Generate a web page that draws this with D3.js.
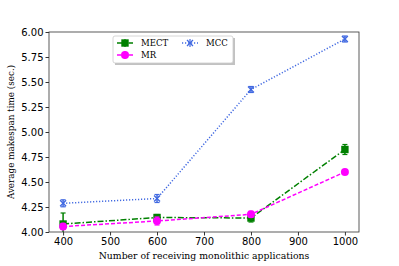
<!DOCTYPE html>
<html><head><meta charset="utf-8">
<script src="https://cdn.jsdelivr.net/npm/d3@7"></script>
<style>body{margin:0;background:#fff}svg{display:block}</style>
</head><body>
<svg id="c" width="399" height="266"></svg>
<script>
const xCats = [400, 600, 800, 1000];
const mectVals = [4.08, 4.145, 4.14, 4.825];
const mectErr = [0.11, 0.03, 0.04, 0.05];
const mrVals = [4.055, 4.11, 4.177, 4.60];
const mrErr = [0.03, 0.04, 0.03, 0.02];
const mccVals = [4.287, 4.335, 5.425, 5.93];
const mccErr = [0.035, 0.04, 0.03, 0.03];
const xTicks = [400, 500, 600, 700, 800, 900, 1000];
const yTicks = [4.00, 4.25, 4.50, 4.75, 5.00, 5.25, 5.50, 5.75, 6.00];

const svg = d3.select("#c");
const L = 49, R = 359, T = 32, B = 232;
const x = d3.scaleLinear().domain([370, 1030]).range([L, R]);
const y = d3.scaleLinear().domain([4.0, 6.0]).range([B, T]);

svg.append("defs").append("clipPath").attr("id","cp")
  .append("rect").attr("x",L).attr("y",T).attr("width",R-L).attr("height",B-T);

const series = [
  {name:"MECT", vals:mectVals, err:mectErr, color:"#008000", dash:"6,2,1.5,2", marker:"square"},
  {name:"MR", vals:mrVals, err:mrErr, color:"#ff00ff", dash:"4,2", marker:"circle"},
  {name:"MCC", vals:mccVals, err:mccErr, color:"#4169e1", dash:"1.2,1.8", marker:"x"}
];

const g = svg.append("g").attr("clip-path","url(#cp)");
const line = d3.line().x((d,i)=>x(xCats[i])).y(d=>y(d));

function drawMarker(sel, type, cx, cy, color){
  if(type==="square"){
    sel.append("rect").attr("x",cx-3.7).attr("y",cy-3.7).attr("width",7.4).attr("height",7.4).attr("fill",color);
  } else if(type==="circle"){
    sel.append("circle").attr("cx",cx).attr("cy",cy).attr("r",4).attr("fill",color);
  } else {
    sel.append("path").attr("d",`M${cx-3},${cy-3}L${cx+3},${cy+3}M${cx-3},${cy+3}L${cx+3},${cy-3}`)
      .attr("stroke",color).attr("stroke-width",1.3).attr("fill","none");
  }
}

series.forEach(s=>{
  const sg = g.append("g");
  s.vals.forEach((v,i)=>{
    const cx = x(xCats[i]);
    sg.append("line").attr("x1",cx).attr("x2",cx).attr("y1",y(v-s.err[i])).attr("y2",y(v+s.err[i]))
      .attr("stroke",s.color).attr("stroke-width",1.5);
    [v-s.err[i], v+s.err[i]].forEach(e=>{
      sg.append("line").attr("x1",cx-2.5).attr("x2",cx+2.5).attr("y1",y(e)).attr("y2",y(e))
        .attr("stroke",s.color).attr("stroke-width",1.2);
    });
  });
  sg.append("path").datum(s.vals).attr("d",line).attr("fill","none")
    .attr("stroke",s.color).attr("stroke-width",1.5).attr("stroke-dasharray",s.dash);
  s.vals.forEach((v,i)=>drawMarker(sg, s.marker, x(xCats[i]), y(v), s.color));
});

const xAxis = d3.axisBottom(x).tickValues(xTicks).tickSize(3.5).tickPadding(2).tickFormat(d3.format("d"));
const yAxis = d3.axisLeft(y).tickValues(yTicks).tickSize(3.5).tickPadding(2).tickFormat(d3.format(".2f"));
const gx = svg.append("g").attr("transform",`translate(0,${B})`).call(xAxis);
const gy = svg.append("g").attr("transform",`translate(${L},0)`).call(yAxis);
[gx,gy].forEach(a=>{
  a.select(".domain").remove();
  a.selectAll(".tick line").attr("stroke","#000").attr("stroke-width",0.8);
  a.selectAll("text").attr("font-family","DejaVu Sans").attr("font-size",10).attr("fill","#000");
});
svg.append("rect").attr("x",L).attr("y",T).attr("width",R-L).attr("height",B-T)
  .attr("fill","none").attr("stroke","#333").attr("stroke-width",0.8);

svg.append("text").attr("x",204).attr("y",259).attr("text-anchor","middle")
  .attr("font-family","DejaVu Serif").attr("font-size",9.3).text("Number of receiving monolithic applications");
svg.append("text").attr("transform",`translate(14,${(T+B)/2}) rotate(-90)`).attr("text-anchor","middle")
  .attr("font-family","DejaVu Serif").attr("font-size",8.8).text("Average makespan time (sec.)");

const lg = svg.append("g");
lg.append("rect").attr("x",115).attr("y",38).attr("width",120).attr("height",27).attr("fill","#999").attr("opacity",0.6);
lg.append("rect").attr("x",113).attr("y",36).attr("width",120).attr("height",27).attr("rx",2)
  .attr("fill","#fff").attr("stroke","#ccc").attr("stroke-width",0.8);
const pos = [{x:117,y:43},{x:117,y:55},{x:182,y:43}];
series.forEach((s,i)=>{
  const p = pos[i];
  lg.append("line").attr("x1",p.x).attr("x2",p.x+16).attr("y1",p.y).attr("y2",p.y)
    .attr("stroke",s.color).attr("stroke-width",1.5).attr("stroke-dasharray",s.dash);
  lg.append("line").attr("x1",p.x+8).attr("x2",p.x+8).attr("y1",p.y-4).attr("y2",p.y+4).attr("stroke",s.color).attr("stroke-width",1.2);
  drawMarker(lg, s.marker, p.x+8, p.y, s.color);
  lg.append("text").attr("x",p.x+24).attr("y",p.y+3).attr("font-family","DejaVu Serif").attr("font-size",8.5).text(s.name);
});
</script>
</body></html>
